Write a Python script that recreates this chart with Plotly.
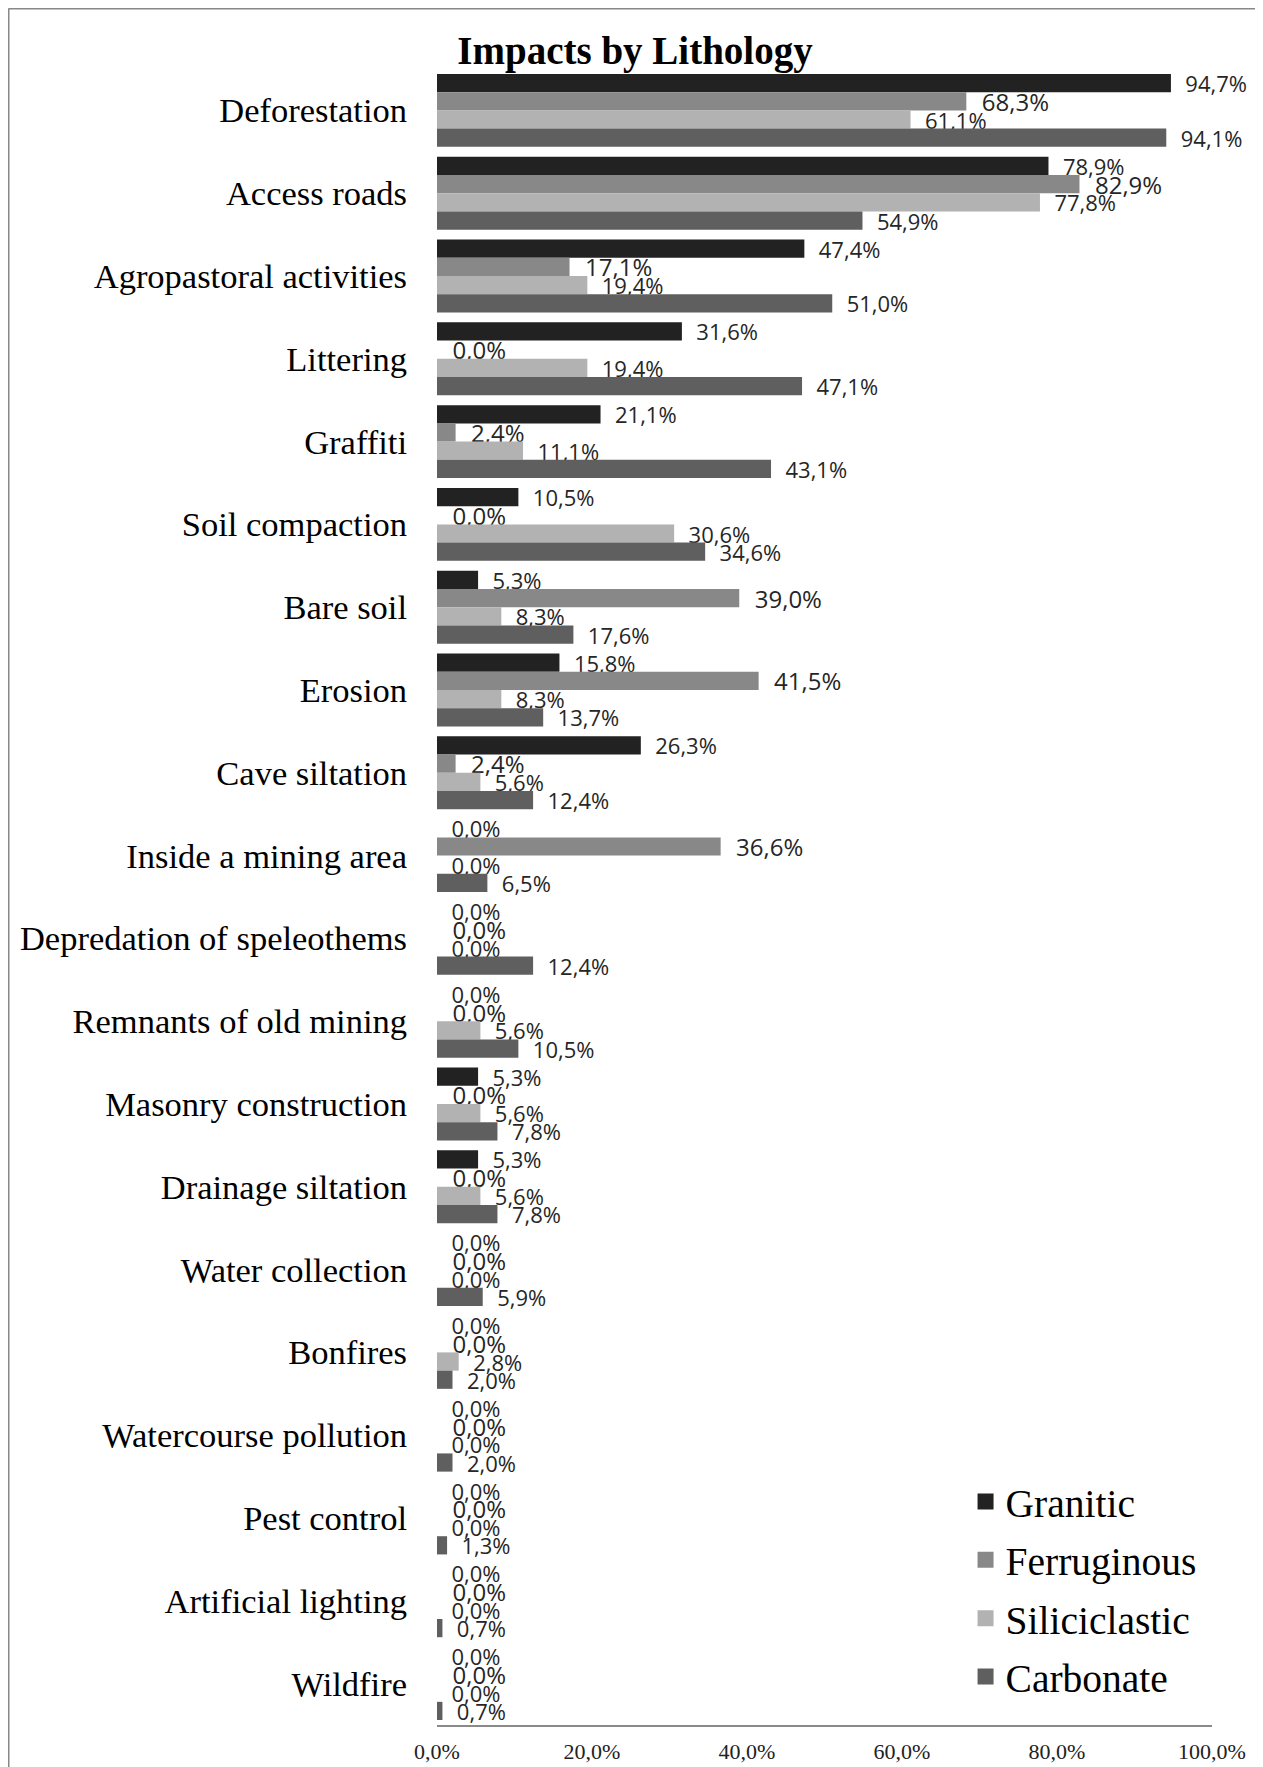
import plotly.graph_objects as go

# Data (percent of caves in each lithology showing each impact)
impacts = ["Deforestation", "Access roads", "Agropastoral activities", "Littering",
           "Graffiti", "Soil compaction", "Bare soil", "Erosion", "Cave siltation",
           "Inside a mining area", "Depredation of speleothems", "Remnants of old mining",
           "Masonry construction", "Drainage siltation", "Water collection", "Bonfires",
           "Watercourse pollution", "Pest control", "Artificial lighting", "Wildfire"]

granitic = [94.7, 78.9, 47.4, 31.6, 21.1, 10.5, 5.3, 15.8, 26.3, 0.0,
            0.0, 0.0, 5.3, 5.3, 0.0, 0.0, 0.0, 0.0, 0.0, 0.0]
ferruginous = [68.3, 82.9, 17.1, 0.0, 2.4, 0.0, 39.0, 41.5, 2.4, 36.6,
               0.0, 0.0, 0.0, 0.0, 0.0, 0.0, 0.0, 0.0, 0.0, 0.0]
siliciclastic = [61.1, 77.8, 19.4, 19.4, 11.1, 30.6, 8.3, 8.3, 5.6, 0.0,
                 0.0, 5.6, 5.6, 5.6, 0.0, 2.8, 0.0, 0.0, 0.0, 0.0]
carbonate = [94.1, 54.9, 51.0, 47.1, 43.1, 34.6, 17.6, 13.7, 12.4, 6.5,
             12.4, 10.5, 7.8, 7.8, 5.9, 2.0, 2.0, 1.3, 0.7, 0.7]

x_ticks = [0, 20, 40, 60, 80, 100]
x_tick_text = ["0,0%", "20,0%", "40,0%", "60,0%", "80,0%", "100,0%"]

series = [
    ("Granitic", granitic, "#222222", 22),
    ("Ferruginous", ferruginous, "#888888", 24),
    ("Siliciclastic", siliciclastic, "#b2b2b2", 22),
    ("Carbonate", carbonate, "#5f5f5f", 22),
]

# the page body adds an 8px margin, so the figure is 8px smaller than the window
OFF = 8
W, H = 1263 - OFF, 1767 - OFF
ML, MR, MT, MB = 437 - OFF, 51, 69 - OFF, 42
SERIF = "Liberation Serif, Times New Roman, serif"

fig = go.Figure()

for name, vals, color, fs in series:
    fig.add_trace(go.Bar(
        y=impacts, x=vals, name=name, orientation="h",
        marker=dict(color=color, line=dict(width=0)),
        texttemplate="\u00a0\u00a0%{x:.1f}%", textposition="outside",
        textfont=dict(family="Open Sans, sans-serif", size=fs, color="#262626"),
        constraintext="none", cliponaxis=False, showlegend=False,
    ))

# legend entries with bigger square swatches
for i, (name, vals, color, fs) in enumerate(series):
    fig.add_trace(go.Scatter(
        x=[None], y=[None], mode="markers", name=name,
        marker=dict(symbol="square", size=22, color=color),
        legendgroup=str(i),
    ))

# frame lines (top and left) around the picture
pw = W - ML - MR
ph = H - MT - MB
def px(p): return (p - ML) / pw
def py(p): return (H - MB - p) / ph
frame = dict(color="#888888", width=2)
fig.add_shape(type="line", xref="paper", yref="paper",
              x0=px(0.5), x1=px(W + 5), y0=py(0.5), y1=py(0.5), line=frame)
fig.add_shape(type="line", xref="paper", yref="paper",
              x0=px(0.5), x1=px(0.5), y0=py(0.5), y1=py(H + 5), line=frame)

fig.update_layout(
    width=W, height=H,
    margin=dict(l=ML, r=MR, t=MT, b=MB, autoexpand=False),
    paper_bgcolor="white", plot_bgcolor="white",
    separators=",.",
    barmode="group", bargap=0.12, bargroupgap=0,
    title=dict(text="<b>Impacts by Lithology</b>", x=(635 - OFF) / W, xanchor="center",
               y=1 - (50 - OFF) / H, yanchor="middle",
               font=dict(family=SERIF, size=39, color="black")),
    xaxis=dict(range=[0, 100], tickvals=x_ticks, ticktext=x_tick_text,
               showgrid=False, zeroline=False, automargin=False,
               showline=True, linecolor="#8a8a8a", linewidth=2, ticks="",
               ticklabelstandoff=6,
               tickfont=dict(family=SERIF, size=22, color="#222222")),
    yaxis=dict(autorange="reversed", showgrid=False, zeroline=False, showline=False,
               ticks="", ticklabelstandoff=29, automargin=False,
               tickfont=dict(family=SERIF, size=34.5, color="black")),
    legend=dict(x=0.682, xanchor="left", y=0.0095, yanchor="bottom",
                font=dict(family=SERIF, size=39.5, color="black"),
                tracegroupgap=4, bgcolor="rgba(0,0,0,0)", itemsizing="trace"),
)

fig.write_html("out.html")
